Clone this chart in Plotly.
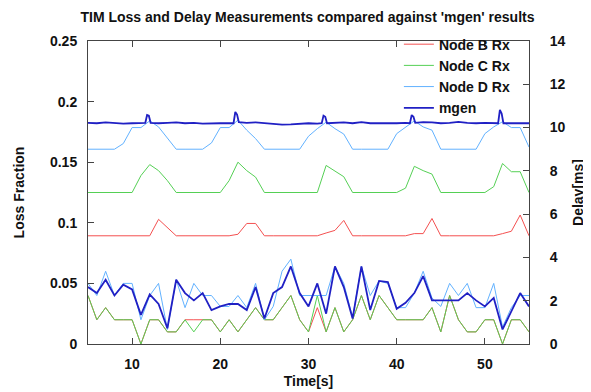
import plotly.graph_objects as go

# ---------------- data ----------------
time_s = list(range(5, 56))

loss_node_b = [0.04, 0.02, 0.03, 0.02, 0.02, 0.02, 0.0, 0.02, 0.02, 0.01,
               0.01, 0.02, 0.02, 0.02, 0.02, 0.01, 0.02, 0.01, 0.02, 0.03,
               0.02, 0.02, 0.03, 0.04, 0.02, 0.01, 0.03, 0.01, 0.03, 0.01,
               0.02, 0.04, 0.02, 0.04, 0.03, 0.02, 0.02, 0.02, 0.02, 0.03,
               0.01, 0.04, 0.02, 0.01, 0.01, 0.02, 0.02, 0.0, 0.02, 0.02, 0.01]
loss_node_c = [0.04, 0.02, 0.03, 0.02, 0.02, 0.02, 0.0, 0.02, 0.02, 0.01,
               0.01, 0.02, 0.01, 0.02, 0.02, 0.01, 0.02, 0.01, 0.02, 0.03,
               0.02, 0.02, 0.03, 0.04, 0.02, 0.01, 0.04, 0.01, 0.03, 0.01,
               0.02, 0.04, 0.02, 0.04, 0.03, 0.02, 0.02, 0.02, 0.02, 0.03,
               0.01, 0.04, 0.02, 0.01, 0.01, 0.02, 0.02, 0.0, 0.02, 0.02, 0.01]
loss_node_d = [0.05, 0.04, 0.06, 0.04, 0.05, 0.05, 0.02, 0.04, 0.05, 0.012,
               0.053, 0.03, 0.05, 0.04, 0.04, 0.031, 0.031, 0.04, 0.03, 0.05,
               0.02, 0.031, 0.06, 0.07, 0.04, 0.04, 0.04, 0.04, 0.064, 0.05,
               0.022, 0.064, 0.04, 0.052, 0.05, 0.03, 0.03, 0.042, 0.06, 0.038,
               0.031, 0.05, 0.04, 0.05, 0.03, 0.03, 0.05, 0.014, 0.03, 0.04, 0.04]
loss_mgen = [0.047, 0.042, 0.053, 0.04, 0.049, 0.045, 0.024, 0.041, 0.033, 0.013,
             0.053, 0.042, 0.036, 0.042, 0.028, 0.031, 0.033, 0.033, 0.028, 0.047,
             0.021, 0.042, 0.047, 0.064, 0.042, 0.031, 0.05, 0.025, 0.064, 0.047,
             0.021, 0.064, 0.028, 0.052, 0.051, 0.029, 0.034, 0.042, 0.056, 0.036,
             0.036, 0.036, 0.036, 0.042, 0.036, 0.031, 0.038, 0.012, 0.027, 0.042, 0.031]

delay_node_b = [5.0, 5.0, 5.0, 5.0, 5.0, 5.0, 5.0, 5.0, 5.76, 5.4,
                5.0, 5.0, 5.0, 5.0, 5.0, 5.0, 5.0, 5.07, 5.57, 5.57,
                5.0, 5.0, 5.0, 5.0, 5.0, 5.0, 5.0, 5.13, 5.25, 5.71,
                5.0, 5.0, 5.0, 5.0, 5.0, 5.0, 5.0, 5.1, 5.1, 5.8,
                5.0, 5.0, 5.0, 5.0, 5.0, 5.0, 5.0, 5.1, 5.21, 5.96, 5.0]
delay_node_c = [7.0, 7.0, 7.0, 7.0, 7.0, 7.0, 7.78, 8.29, 8.01, 7.55,
                7.0, 7.0, 7.0, 7.0, 7.0, 7.0, 7.55, 8.4, 8.01, 7.71,
                7.0, 7.0, 7.0, 7.0, 7.0, 7.0, 7.0, 8.25, 8.01, 7.73,
                7.0, 7.0, 7.0, 7.0, 7.0, 7.0, 7.2, 8.21, 8.01, 7.85,
                7.0, 7.0, 7.0, 7.0, 7.0, 7.0, 7.27, 8.34, 7.96, 7.96, 7.0]
delay_node_d = [9.0, 9.0, 9.0, 9.0, 9.26, 10.0, 10.0, 10.31, 10.03, 9.49,
                9.0, 9.0, 9.0, 9.0, 9.29, 10.0, 10.0, 10.34, 9.88, 9.49,
                9.0, 9.0, 9.0, 9.0, 9.0, 9.6, 9.95, 10.25, 9.95, 9.7,
                9.0, 9.0, 9.0, 9.0, 9.0, 9.72, 10.03, 10.31, 10.03, 9.88,
                9.0, 9.0, 9.0, 9.0, 9.0, 9.72, 10.03, 10.27, 10.0, 10.0, 9.1]

mgen_delay_time = [5, 6, 7, 8, 9, 10, 11, 11.5, 11.7, 11.9, 12.1, 13, 14, 15, 16, 17, 18, 19, 20,
                   21, 21.5, 21.7, 21.9, 22.1, 23, 24, 25, 26, 27, 28, 29, 30,
                   31, 31.5, 31.7, 31.9, 32.1, 33, 34, 35, 36, 37, 38, 39, 40,
                   41, 41.5, 41.7, 41.9, 42.1, 43, 44, 45, 46, 47, 48, 49, 50,
                   51, 51.5, 51.7, 51.9, 52.1, 53, 54, 55]
delay_mgen = [10.22, 10.2, 10.24, 10.22, 10.18, 10.2, 10.22, 10.22, 10.58, 10.55, 10.22,
              10.2, 10.22, 10.24, 10.2, 10.22, 10.18, 10.2, 10.2,
              10.2, 10.2, 10.72, 10.6, 10.25, 10.22, 10.24, 10.2, 10.16, 10.14, 10.15, 10.18, 10.2,
              10.18, 10.2, 10.55, 10.5, 10.2, 10.22, 10.24, 10.2, 10.25, 10.2, 10.2, 10.18, 10.2,
              10.22, 10.2, 10.58, 10.5, 10.22, 10.25, 10.24, 10.2, 10.22, 10.26, 10.22, 10.2, 10.22,
              10.2, 10.2, 10.82, 10.65, 10.2, 10.2, 10.2, 10.2]

series_names = ["Node B Rx", "Node C Rx", "Node D Rx", "mgen"]
series_colors = ["#f45050", "#55d055", "#62b2ff", "#2020c4"]
series_widths = [1, 1, 1, 1.8]

# ---------------- figure ----------------
FONT = "Liberation Sans, Arial, sans-serif"
fig = go.Figure()

loss_sets = [loss_node_b, loss_node_c, loss_node_d, loss_mgen]
delay_sets = [(time_s, delay_node_b), (time_s, delay_node_c),
              (time_s, delay_node_d), (mgen_delay_time, delay_mgen)]

for name, col, w, loss in zip(series_names, series_colors, series_widths, loss_sets):
    fig.add_trace(go.Scatter(x=time_s, y=loss, mode="lines", name=name,
                             line=dict(color=col, width=w), yaxis="y"))

for name, col, w, (tt, dd) in zip(series_names, series_colors, series_widths, delay_sets):
    fig.add_trace(go.Scatter(x=tt, y=dd, mode="lines", name=name, showlegend=False,
                             line=dict(color=col, width=w), yaxis="y2"))

axis_font = dict(family=FONT, size=14, color="#111111", weight="bold")
line_col = "#444444"

fig.update_layout(
    width=583, height=384,
    margin=dict(l=79.5, r=62, t=33, b=48, autoexpand=False),
    paper_bgcolor="white", plot_bgcolor="white",
    font=dict(family=FONT, size=14, color="#111111"),
    title=dict(text="<b>TIM Loss and Delay Measurements compared against 'mgen' results</b>",
               x=0.5137, xanchor="center", y=0.977, yanchor="middle",
               font=dict(family=FONT, size=14, color="#111111")),
    xaxis=dict(range=[5, 55], dtick=10, tick0=10, showgrid=False, zeroline=False,
               showline=True, linecolor=line_col, linewidth=1, mirror="ticks",
               ticks="inside", ticklen=6, tickcolor=line_col,
               tickfont=axis_font, ticklabelstandoff=7,
               title=dict(text="Time[s]", font=axis_font, standoff=5)),
    yaxis=dict(range=[0, 0.25], dtick=0.05, showgrid=False, zeroline=False,
               showline=True, linecolor=line_col, linewidth=1,
               ticks="inside", ticklen=6, tickcolor=line_col,
               tickfont=axis_font, ticklabelstandoff=7,
               title=dict(text="Loss Fraction", font=axis_font, standoff=22)),
    yaxis2=dict(range=[0, 14], dtick=2, overlaying="y", side="right",
                showgrid=False, zeroline=False,
                showline=True, linecolor=line_col, linewidth=1,
                ticks="inside", ticklen=6, tickcolor=line_col,
                tickfont=axis_font, ticklabelstandoff=17,
                title=dict(text="Delay[ms]", font=axis_font, standoff=8)),
    legend=dict(x=0.968, xanchor="right", y=1.041, yanchor="top",
                bgcolor="rgba(0,0,0,0)", borderwidth=0,
                font=dict(family=FONT, size=14, color="#111111", weight="bold"),
                tracegroupgap=0, itemwidth=30),
    showlegend=True,
)

fig.write_html("out.html")
